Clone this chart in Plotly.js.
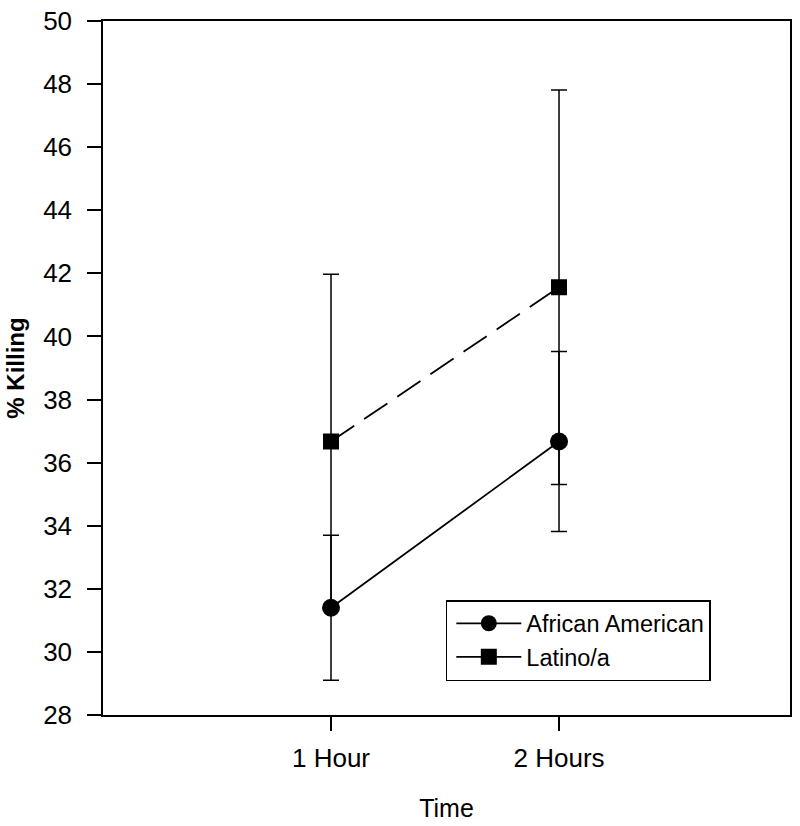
<!DOCTYPE html>
<html>
<head>
<meta charset="utf-8">
<script src="https://cdn.plot.ly/plotly-3.0.1.min.js"></script>
<style>
  body { margin: 0; background: #fff; }
  #chart { width: 800px; height: 826px; }
</style>
</head>
<body>
<div id="chart"></div>
<script>
// time points and group means (% killing) with error bar half-widths
var times = ['1 Hour', '2 Hours'];
var africanAmerican = [31.4, 36.67];
var africanAmericanErr = [2.3, 2.85];
var latino = [36.67, 41.56];
var latinoErr = [5.3, 6.25];

var font = 'Arial, "Liberation Sans", sans-serif';

var aaTrace = {
    x: times,
    y: africanAmerican,
    name: 'African American',
    type: 'scatter',
    mode: 'lines+markers',
    line: {color: '#000', width: 1.8},
    marker: {symbol: 'circle', size: 18, color: '#000'},
    error_y: {type: 'data', array: africanAmericanErr, visible: true,
              color: '#000', thickness: 1.5, width: 8}
};

var latinoTrace = {
    x: times,
    y: latino,
    name: 'Latino/a',
    type: 'scatter',
    mode: 'lines+markers',
    line: {color: '#000', width: 1.8, dash: '28px,12px'},
    marker: {symbol: 'square', size: 16, color: '#000'},
    error_y: {type: 'data', array: latinoErr, visible: true,
              color: '#000', thickness: 1.5, width: 8}
};

var layout = {
    width: 800,
    height: 826,
    margin: {l: 103, r: 10, t: 21, b: 111},
    paper_bgcolor: '#fff',
    plot_bgcolor: '#fff',
    font: {family: font, size: 24, color: '#000'},
    showlegend: true,
    legend: {
        x: 0.499, y: 0.1657, xanchor: 'left', yanchor: 'top',
        bordercolor: '#000', borderwidth: 1.5, bgcolor: '#fff',
        font: {family: font, size: 23.5, color: '#000'},
        indentation: 4,
        itemwidth: 65,
        tracegroupgap: 0
    },
    xaxis: {
        type: 'category',
        range: [-1, 2.013],
        showline: true, mirror: true, linecolor: '#000', linewidth: 1.5,
        ticks: 'outside', ticklen: 14, tickwidth: 1.5, tickcolor: '#000',
        ticklabelstandoff: 5,
        showgrid: false, zeroline: false,
        tickfont: {family: font, size: 26},
        title: {text: 'Time', font: {family: font, size: 25}, standoff: 28}
    },
    yaxis: {
        range: [28, 50],
        dtick: 2,
        showline: true, mirror: true, linecolor: '#000', linewidth: 1.5,
        ticks: 'outside', ticklen: 14, tickwidth: 1.5, tickcolor: '#000',
        ticklabelstandoff: 10,
        showgrid: false, zeroline: false,
        tickfont: {family: font, size: 26},
        title: {text: '<b>% Killing</b>', font: {family: font, size: 24}, standoff: 12}
    }
};

Plotly.newPlot('chart', [aaTrace, latinoTrace], layout, {displayModeBar: false});
</script>
</body>
</html>
